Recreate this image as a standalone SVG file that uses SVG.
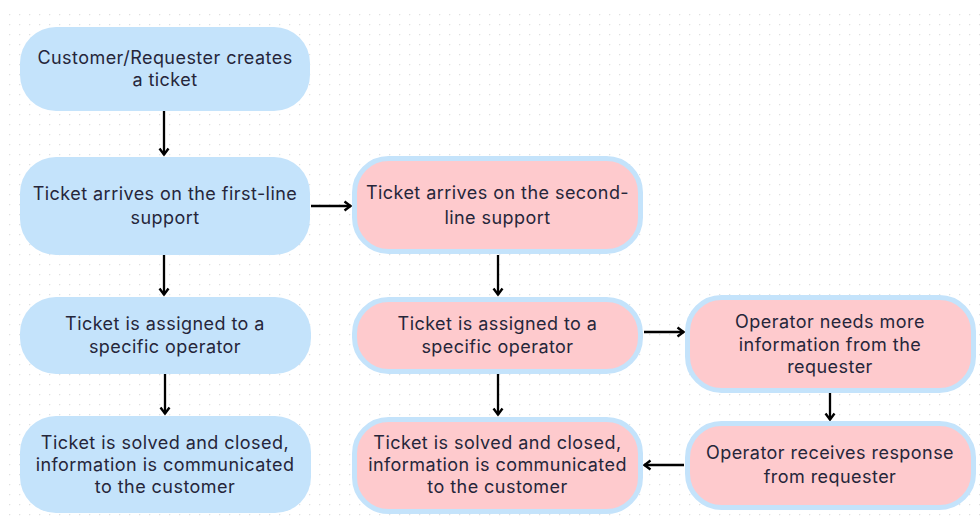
<svg xmlns="http://www.w3.org/2000/svg" width="980" height="524" viewBox="0 0 980 524">
  <defs>
    <pattern id="dots" x="9" y="14" width="10" height="10" patternUnits="userSpaceOnUse">
      <circle cx="0.5" cy="0.5" r="0.85" fill="#e0e0e0"/>
    </pattern>
    <marker id="arr" viewBox="0 0 12 12" refX="10.5" refY="6" markerWidth="12" markerHeight="12" markerUnits="userSpaceOnUse" orient="auto">
      <path d="M4,1.5 L10,6 L4,10.5" fill="none" stroke="#000" stroke-width="2.4" stroke-linejoin="miter"/>
    </marker>
  </defs>
  <style>
    .blue { fill: #c4e3fb; }
    .pink { fill: #fecacd; stroke: #c4e3fb; stroke-width: 5; }
    .t { font-family: Inter, "DejaVu Sans", sans-serif; font-size: 18px; letter-spacing: 0.45px; fill: #26263a; text-anchor: middle; }
    .c { stroke: #000; stroke-width: 2.3; fill: none; marker-end: url(#arr); }
  </style>
  <rect width="980" height="524" fill="#ffffff"/>
  <rect x="4" y="9" width="976" height="515" fill="url(#dots)"/>

  <g id="connectors">
    <line class="c" x1="164" y1="111" x2="164" y2="155"/>
    <line class="c" x1="164" y1="255" x2="164" y2="295"/>
    <line class="c" x1="165" y1="374" x2="165" y2="414"/>
    <line class="c" x1="311" y1="206" x2="351" y2="206"/>
    <line class="c" x1="498" y1="255" x2="498" y2="295"/>
    <line class="c" x1="498" y1="374" x2="498" y2="415"/>
    <line class="c" x1="644" y1="332" x2="684" y2="332"/>
    <line class="c" x1="830" y1="393" x2="830" y2="420"/>
    <line class="c" x1="684" y1="465" x2="644" y2="465"/>
  </g>

  <g id="n1">
    <rect class="blue" x="20" y="27" width="290" height="84" rx="36"/>
    <text class="t" x="165" y="64">Customer/Requester creates</text>
    <text class="t" x="165" y="86">a ticket</text>
  </g>
  <g id="n2">
    <rect class="blue" x="20" y="157" width="290" height="98" rx="36"/>
    <text class="t" x="165" y="200">Ticket arrives on the first-line</text>
    <text class="t" x="165" y="224">support</text>
  </g>
  <g id="n3">
    <rect class="blue" x="20" y="297" width="291" height="77" rx="36"/>
    <text class="t" x="165" y="330">Ticket is assigned to a</text>
    <text class="t" x="165" y="353">specific operator</text>
  </g>
  <g id="n4">
    <rect class="blue" x="20" y="416" width="291" height="97" rx="36"/>
    <text class="t" x="165" y="449">Ticket is solved and closed,</text>
    <text class="t" x="165" y="471">information is communicated</text>
    <text class="t" x="165" y="493">to the customer</text>
  </g>

  <g id="nA">
    <rect class="pink" x="354.5" y="158.5" width="286" height="93" rx="34"/>
    <text class="t" x="497.5" y="199">Ticket arrives on the second-</text>
    <text class="t" x="497.5" y="224">line support</text>
  </g>
  <g id="nB">
    <rect class="pink" x="354.5" y="299.5" width="286" height="72" rx="34"/>
    <text class="t" x="497.5" y="330">Ticket is assigned to a</text>
    <text class="t" x="497.5" y="353">specific operator</text>
  </g>
  <g id="nE">
    <rect class="pink" x="354.5" y="419.5" width="286" height="92" rx="34"/>
    <text class="t" x="497.5" y="449">Ticket is solved and closed,</text>
    <text class="t" x="497.5" y="471">information is communicated</text>
    <text class="t" x="497.5" y="493">to the customer</text>
  </g>
  <g id="nC">
    <rect class="pink" x="687.5" y="297.5" width="286" height="93" rx="34"/>
    <text class="t" x="830" y="328">Operator needs more</text>
    <text class="t" x="830" y="351">information from the</text>
    <text class="t" x="830" y="373">requester</text>
  </g>
  <g id="nD">
    <rect class="pink" x="687.5" y="423.5" width="286" height="84" rx="34"/>
    <text class="t" x="830" y="459">Operator receives response</text>
    <text class="t" x="830" y="483">from requester</text>
  </g>
</svg>
